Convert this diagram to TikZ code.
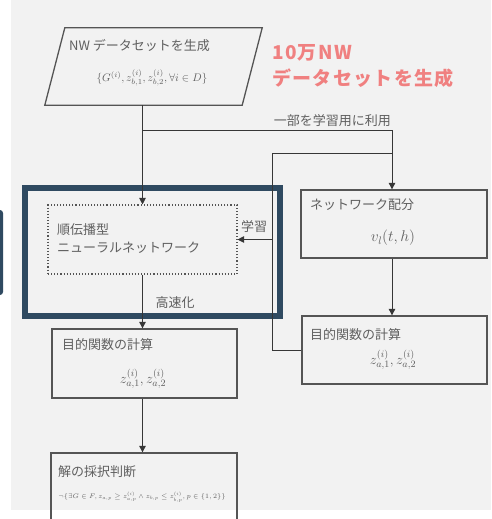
\RequirePackage{fix-cm}
\documentclass[tikz,border=0pt]{standalone}
\usepackage[no-math]{fontspec}
\setmainfont{Noto Sans CJK JP}
\newfontfamily\bigfont{Noto Sans CJK JP}[LetterSpace=7]
\usetikzlibrary{arrows.meta}
\definecolor{bg}{RGB}{242,242,242}
\definecolor{navy}{RGB}{47,74,97}
\definecolor{boxc}{RGB}{85,85,85}
\definecolor{linec}{RGB}{55,55,55}
\definecolor{txt}{RGB}{95,95,95}
\definecolor{salmon}{RGB}{240,128,128}
\begin{document}
\begin{tikzpicture}[x=1pt,y=-1pt,
  box/.style={draw=boxc, line width=1.3pt, inner sep=0pt},
  conn/.style={draw=linec, line width=0.9pt},
  arr/.style={conn, -{Triangle[length=6.5pt,width=6.5pt]}},
  ttl/.style={text=txt, font=\fontsize{13}{16}\selectfont, inner sep=0pt, anchor=west},
  fml/.style={text=txt, inner sep=0pt},
  lbl/.style={text=txt, font=\fontsize{13}{16}\selectfont, inner sep=0pt},
  big/.style={text=salmon, font=\bigfont\fontsize{19}{22}\selectfont\bfseries, inner sep=0pt, anchor=west}]
\clip (0,0) rectangle (491,519);
\fill[white] (0,0) rectangle (491,519);
\fill[bg] (11,0) rectangle (491,510);
\fill[navy, rounded corners=3pt] (-6,210) rectangle (3,295);
% fast (highlight) box
\node[draw=navy, line width=6pt, minimum width=255pt, minimum height=128pt, inner sep=0pt] (fast) at (152.5,252) {};
% NW data generation (parallelogram)
\node[minimum width=197pt, minimum height=77pt, inner sep=0pt] (nwgen) at (163.5,66.5) {};
\draw[boxc, line width=1.3pt] (nwgen.north west) -- (nwgen.north east) -- ([xshift=-20pt]nwgen.south east) -- ([xshift=-20pt]nwgen.south west) -- cycle;
\node[ttl] (nwgent) at (69,46) {NW データセットを生成};
\node[fml] (nwgenf) at (152,78) {\fontsize{11}{13}\selectfont$\{G^{(i)}, z^{(i)}_{b,1}, z^{(i)}_{b,2}, \forall i\in D\}$};
\coordinate (nwb) at ([xshift=-21pt]nwgen.south);
% red note
\node[big] (big1) at (272,53) {10万NW};
\node[big] (big2) at (272,78) {データセットを生成};
% DNN dotted box
\node[draw=boxc, dotted, line width=1.1pt, minimum width=189pt, minimum height=69pt, inner sep=0pt] (dnn) at (142.5,239.5) {};
\node[ttl] (dnnt1) at (57,230) {順伝播型};
\node[ttl] (dnnt2) at (57,248) {ニューラルネットワーク};
% network allocation
\node[box, minimum width=186pt, minimum height=68pt] (net) at (394,224) {};
\node[ttl] (nett) at (310,205) {ネットワーク配分};
\node[fml] (netf) at (393,238) {\fontsize{15.5}{18}\selectfont$v_l(t,h)$};
% objective (right)
\node[box, minimum width=185pt, minimum height=68pt] (obj2) at (394.5,350) {};
\node[ttl] (obj2t) at (310,335) {目的関数の計算};
\node[fml] (obj2f) at (393,360) {\fontsize{14}{16}\selectfont$z^{(i)}_{a,1}, z^{(i)}_{a,2}$};
% objective (left)
\node[box, minimum width=185pt, minimum height=69pt] (obj1) at (144.5,363.5) {};
\node[ttl] (obj1t) at (62,345) {目的関数の計算};
\node[fml] (obj1f) at (143,379) {\fontsize{14}{16}\selectfont$z^{(i)}_{a,1}, z^{(i)}_{a,2}$};
% judge
\node[box, minimum width=186pt, minimum height=87pt] (judge) at (144,496.5) {};
\node[ttl] (judget) at (58,472) {解の採択判断};
\node[fml] (judgef) at (142,497) {\fontsize{6.6}{8}\selectfont$\neg\{\exists G\in F, z_{a,p}\geq z^{(i)}_{a,p}\wedge z_{b,p}\leq z^{(i)}_{b,p}, p\in\{1,2\}\}$};
% connectors
\coordinate (j1) at (142.5,130);
\coordinate (rc) at (392,130);
\coordinate (k1) at (272,153);
\coordinate (k2) at (392,153);
\draw[arr] (nwb) -- (dnn.north);
\draw[arr] (j1) -- (rc) -- (rc |- net.north);
\node[lbl, anchor=east] (uselbl) at (391,121) {一部を学習用に利用};
\draw[conn] (obj2.west) -| (k1) -- (k2);
\draw[arr] (k1 |- dnn.east) -- (dnn.east);
\node[lbl] (learnlbl) at (254,227) {学習};
\draw[arr] (dnn.south) -- (dnn.south |- obj1.north);
\node[lbl] (fastlbl) at (175,303) {高速化};
\draw[arr] (rc |- net.south) -- (rc |- obj2.north);
\draw[arr] (obj1.south -| dnn.south) -- (dnn.south |- judge.north);
\end{tikzpicture}
\end{document}
